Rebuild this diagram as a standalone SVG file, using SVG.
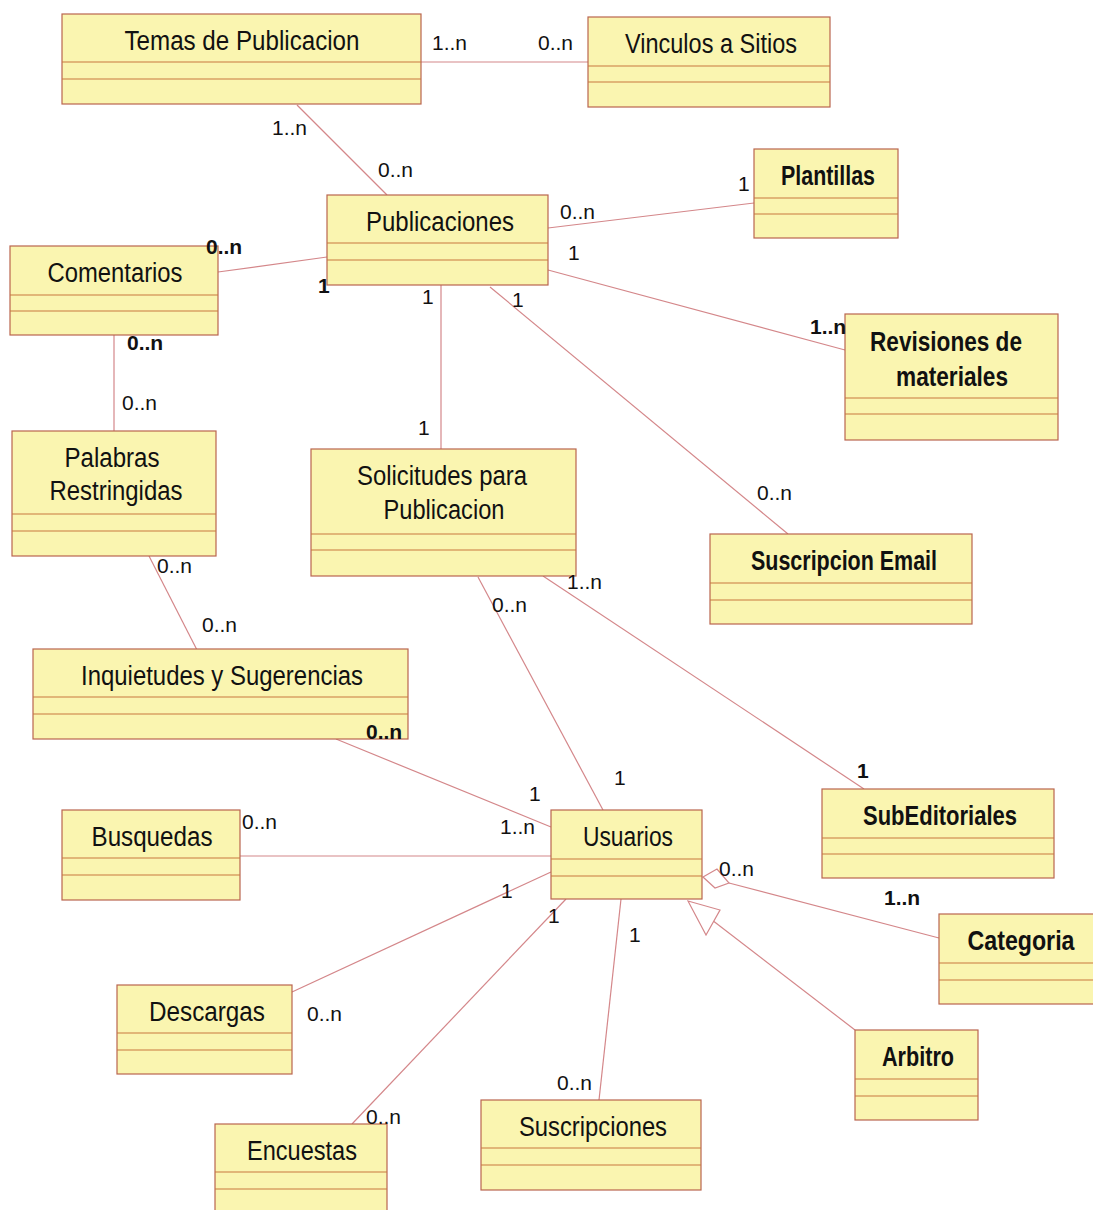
<svg xmlns="http://www.w3.org/2000/svg" width="1093" height="1210" viewBox="0 0 1093 1210">
  <style>
    .box { fill: #FAF5B0; stroke: #B9654F; stroke-width: 1.2; }
    .sep { stroke: #C8783E; stroke-width: 1.2; }
    .t { font-family: "Liberation Sans", Arial, sans-serif; font-size: 27px; fill: #111; text-anchor: middle; }
    .tb { font-weight: bold; }
    .m { font-family: "Liberation Sans", Arial, sans-serif; font-size: 21px; fill: #111; }
    .mb { font-weight: bold; }
    .link { stroke: #D4878A; stroke-width: 1.2; fill: none; }
    .head { stroke: #D4878A; stroke-width: 1.2; fill: #FFFFFF; }
  </style>
  <rect width="1093" height="1210" fill="#FFFFFF"/>

  <!-- associations -->
  <g id="connectors">
    <line class="link" x1="421" y1="62" x2="588" y2="62"/>
    <line class="link" x1="297" y1="105" x2="387" y2="195"/>
    <line class="link" x1="548" y1="228" x2="754" y2="203"/>
    <line class="link" x1="218" y1="272" x2="327" y2="257"/>
    <line class="link" x1="548" y1="270" x2="845" y2="350"/>
    <line class="link" x1="441" y1="285" x2="441" y2="449"/>
    <line class="link" x1="490" y1="287" x2="788" y2="534"/>
    <line class="link" x1="114" y1="335" x2="114" y2="431"/>
    <line class="link" x1="149" y1="556" x2="197" y2="650"/>
    <line class="link" x1="478" y1="577" x2="603" y2="810"/>
    <line class="link" x1="543" y1="576" x2="864" y2="789"/>
    <line class="link" x1="336" y1="739" x2="551" y2="827"/>
    <line class="link" x1="240" y1="856" x2="551" y2="856"/>
    <line class="link" x1="551" y1="872" x2="292" y2="992"/>
    <line class="link" x1="566" y1="899" x2="352" y2="1124"/>
    <line class="link" x1="621" y1="899" x2="599" y2="1100"/>
    <!-- aggregation Usuarios - Categoria -->
    <line class="link" x1="729" y1="883" x2="939" y2="938"/>
    <polygon class="head" points="703,877 717,869 729,883 715,888"/>
    <!-- generalization Arbitro -> Usuarios -->
    <line class="link" x1="712" y1="920" x2="855" y2="1030"/>
    <polygon class="head" points="688,901 720,910 706,935"/>
  </g>

  <!-- classes -->
  <g id="temas-de-publicacion">
    <rect class="box" x="62" y="14" width="359" height="90"/>
    <line class="sep" x1="62" y1="62" x2="421" y2="62"/>
    <line class="sep" x1="62" y1="79" x2="421" y2="79"/>
    <text class="t" x="242" y="50" textLength="235" lengthAdjust="spacingAndGlyphs">Temas de Publicacion</text>
  </g>
  <g id="vinculos-a-sitios">
    <rect class="box" x="588" y="17" width="242" height="90"/>
    <line class="sep" x1="588" y1="66" x2="830" y2="66"/>
    <line class="sep" x1="588" y1="82" x2="830" y2="82"/>
    <text class="t" x="711" y="53" textLength="172" lengthAdjust="spacingAndGlyphs">Vinculos a Sitios</text>
  </g>
  <g id="plantillas">
    <rect class="box" x="754" y="149" width="144" height="89"/>
    <line class="sep" x1="754" y1="198" x2="898" y2="198"/>
    <line class="sep" x1="754" y1="214" x2="898" y2="214"/>
    <text class="t tb" x="828" y="185" textLength="94" lengthAdjust="spacingAndGlyphs">Plantillas</text>
  </g>
  <g id="publicaciones">
    <rect class="box" x="327" y="195" width="221" height="90"/>
    <line class="sep" x1="327" y1="243" x2="548" y2="243"/>
    <line class="sep" x1="327" y1="260" x2="548" y2="260"/>
    <text class="t" x="440" y="231" textLength="148" lengthAdjust="spacingAndGlyphs">Publicaciones</text>
  </g>
  <g id="comentarios">
    <rect class="box" x="10" y="246" width="208" height="89"/>
    <line class="sep" x1="10" y1="295" x2="218" y2="295"/>
    <line class="sep" x1="10" y1="311" x2="218" y2="311"/>
    <text class="t" x="115" y="282" textLength="135" lengthAdjust="spacingAndGlyphs">Comentarios</text>
  </g>
  <g id="revisiones-de-materiales">
    <rect class="box" x="845" y="314" width="213" height="126"/>
    <line class="sep" x1="845" y1="398" x2="1058" y2="398"/>
    <line class="sep" x1="845" y1="414" x2="1058" y2="414"/>
    <text class="t tb" x="946" y="351" textLength="152" lengthAdjust="spacingAndGlyphs">Revisiones de</text>
    <text class="t tb" x="952" y="386" textLength="112" lengthAdjust="spacingAndGlyphs">materiales</text>
  </g>
  <g id="palabras-restringidas">
    <rect class="box" x="12" y="431" width="204" height="125"/>
    <line class="sep" x1="12" y1="514" x2="216" y2="514"/>
    <line class="sep" x1="12" y1="531" x2="216" y2="531"/>
    <text class="t" x="112" y="467" textLength="95" lengthAdjust="spacingAndGlyphs">Palabras</text>
    <text class="t" x="116" y="500" textLength="133" lengthAdjust="spacingAndGlyphs">Restringidas</text>
  </g>
  <g id="solicitudes-para-publicacion">
    <rect class="box" x="311" y="449" width="265" height="127"/>
    <line class="sep" x1="311" y1="534" x2="576" y2="534"/>
    <line class="sep" x1="311" y1="550" x2="576" y2="550"/>
    <text class="t" x="442" y="485" textLength="170" lengthAdjust="spacingAndGlyphs">Solicitudes para</text>
    <text class="t" x="444" y="519" textLength="121" lengthAdjust="spacingAndGlyphs">Publicacion</text>
  </g>
  <g id="suscripcion-email">
    <rect class="box" x="710" y="534" width="262" height="90"/>
    <line class="sep" x1="710" y1="583" x2="972" y2="583"/>
    <line class="sep" x1="710" y1="600" x2="972" y2="600"/>
    <text class="t tb" x="844" y="570" textLength="186" lengthAdjust="spacingAndGlyphs">Suscripcion Email</text>
  </g>
  <g id="inquietudes-y-sugerencias">
    <rect class="box" x="33" y="649" width="375" height="90"/>
    <line class="sep" x1="33" y1="697" x2="408" y2="697"/>
    <line class="sep" x1="33" y1="714" x2="408" y2="714"/>
    <text class="t" x="222" y="685" textLength="282" lengthAdjust="spacingAndGlyphs">Inquietudes y Sugerencias</text>
  </g>
  <g id="busquedas">
    <rect class="box" x="62" y="810" width="178" height="90"/>
    <line class="sep" x1="62" y1="858" x2="240" y2="858"/>
    <line class="sep" x1="62" y1="875" x2="240" y2="875"/>
    <text class="t" x="152" y="846" textLength="121" lengthAdjust="spacingAndGlyphs">Busquedas</text>
  </g>
  <g id="usuarios">
    <rect class="box" x="551" y="810" width="151" height="89"/>
    <line class="sep" x1="551" y1="859" x2="702" y2="859"/>
    <line class="sep" x1="551" y1="876" x2="702" y2="876"/>
    <text class="t" x="628" y="846" textLength="90" lengthAdjust="spacingAndGlyphs">Usuarios</text>
  </g>
  <g id="subeditoriales">
    <rect class="box" x="822" y="789" width="232" height="89"/>
    <line class="sep" x1="822" y1="838" x2="1054" y2="838"/>
    <line class="sep" x1="822" y1="854" x2="1054" y2="854"/>
    <text class="t tb" x="940" y="825" textLength="154" lengthAdjust="spacingAndGlyphs">SubEditoriales</text>
  </g>
  <g id="categoria">
    <rect class="box" x="939" y="914" width="164" height="90"/>
    <line class="sep" x1="939" y1="963" x2="1103" y2="963"/>
    <line class="sep" x1="939" y1="980" x2="1103" y2="980"/>
    <text class="t tb" x="1021" y="950" textLength="107" lengthAdjust="spacingAndGlyphs">Categoria</text>
  </g>
  <g id="descargas">
    <rect class="box" x="117" y="985" width="175" height="89"/>
    <line class="sep" x1="117" y1="1033" x2="292" y2="1033"/>
    <line class="sep" x1="117" y1="1050" x2="292" y2="1050"/>
    <text class="t" x="207" y="1021" textLength="116" lengthAdjust="spacingAndGlyphs">Descargas</text>
  </g>
  <g id="arbitro">
    <rect class="box" x="855" y="1030" width="123" height="90"/>
    <line class="sep" x1="855" y1="1079" x2="978" y2="1079"/>
    <line class="sep" x1="855" y1="1096" x2="978" y2="1096"/>
    <text class="t tb" x="918" y="1066" textLength="72" lengthAdjust="spacingAndGlyphs">Arbitro</text>
  </g>
  <g id="encuestas">
    <rect class="box" x="215" y="1124" width="172" height="100"/>
    <line class="sep" x1="215" y1="1172" x2="387" y2="1172"/>
    <line class="sep" x1="215" y1="1189" x2="387" y2="1189"/>
    <text class="t" x="302" y="1160" textLength="110" lengthAdjust="spacingAndGlyphs">Encuestas</text>
  </g>
  <g id="suscripciones">
    <rect class="box" x="481" y="1100" width="220" height="90"/>
    <line class="sep" x1="481" y1="1148" x2="701" y2="1148"/>
    <line class="sep" x1="481" y1="1165" x2="701" y2="1165"/>
    <text class="t" x="593" y="1136" textLength="148" lengthAdjust="spacingAndGlyphs">Suscripciones</text>
  </g>

  <!-- multiplicities, drawn over the class boxes -->
  <g id="multiplicities">
    <text class="m" x="432" y="50">1..n</text>
    <text class="m" x="538" y="50">0..n</text>
    <text class="m" x="272" y="135">1..n</text>
    <text class="m" x="378" y="177">0..n</text>
    <text class="m" x="560" y="219">0..n</text>
    <text class="m" x="738" y="191">1</text>
    <text class="m mb" x="206" y="254">0..n</text>
    <text class="m mb" x="318" y="293">1</text>
    <text class="m" x="568" y="260">1</text>
    <text class="m mb" x="810" y="334">1..n</text>
    <text class="m" x="422" y="304">1</text>
    <text class="m" x="512" y="307">1</text>
    <text class="m" x="418" y="435">1</text>
    <text class="m" x="757" y="500">0..n</text>
    <text class="m mb" x="127" y="350">0..n</text>
    <text class="m" x="122" y="410">0..n</text>
    <text class="m" x="157" y="573">0..n</text>
    <text class="m" x="202" y="632">0..n</text>
    <text class="m" x="492" y="612">0..n</text>
    <text class="m" x="567" y="589">1..n</text>
    <text class="m mb" x="366" y="739">0..n</text>
    <text class="m" x="529" y="801">1</text>
    <text class="m" x="500" y="834">1..n</text>
    <text class="m" x="614" y="785">1</text>
    <text class="m mb" x="857" y="778">1</text>
    <text class="m" x="242" y="829">0..n</text>
    <text class="m" x="719" y="876">0..n</text>
    <text class="m mb" x="884" y="905">1..n</text>
    <text class="m" x="501" y="898">1</text>
    <text class="m" x="548" y="923">1</text>
    <text class="m" x="629" y="942">1</text>
    <text class="m" x="307" y="1021">0..n</text>
    <text class="m" x="557" y="1090">0..n</text>
    <text class="m" x="366" y="1124">0..n</text>
  </g>
</svg>
